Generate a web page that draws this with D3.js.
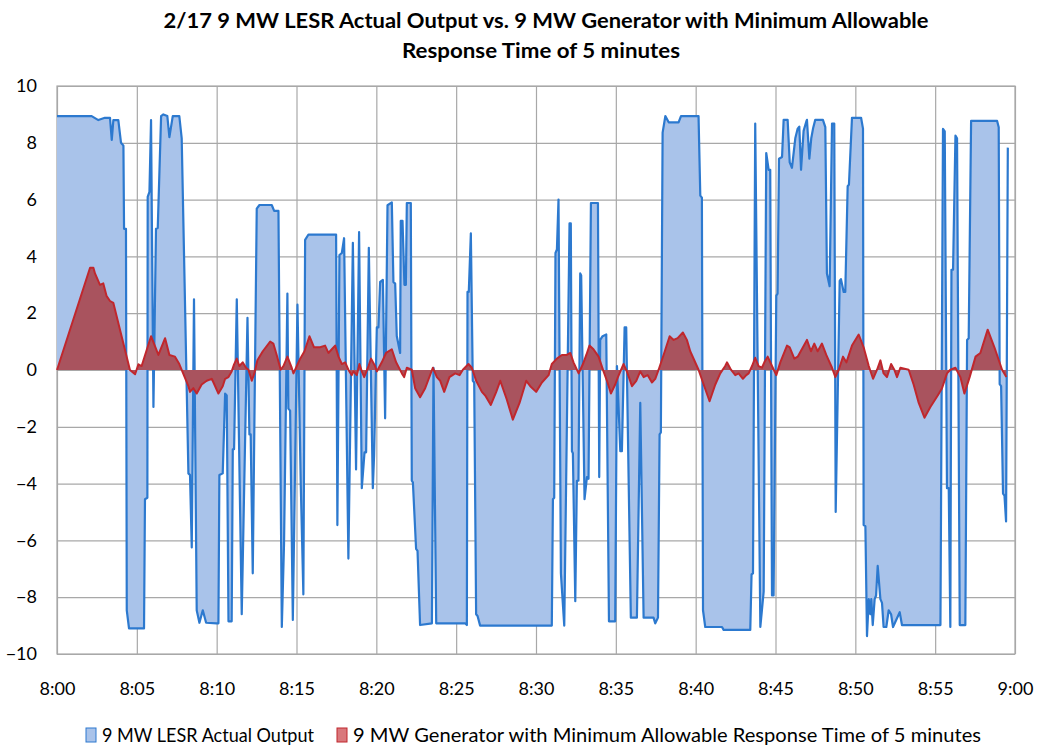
<!DOCTYPE html>
<html><head><meta charset="utf-8">
<script src="https://cdn.jsdelivr.net/npm/d3@7"></script>
<style>
body{margin:0;background:#fff;}
svg text{font-family:Lato,"Open Sans",sans-serif;fill:#000;}
</style></head>
<body><svg id="c" width="1039" height="749"></svg>
<script>
// Time in minutes after 8:00
const blueT = [0,2.17,2.59,3.0,3.32,3.43,3.53,3.84,4.01,4.16,4.20,4.32,4.37,4.51,5.45,5.51,5.66,5.68,5.79,5.89,6.04,6.20,6.31,6.52,6.66,6.91,7.04,7.25,7.66,7.81,8.23,8.33,8.44,8.58,8.75,8.92,9.13,9.34,10.0,
 10.11,10.17,10.38,10.53,10.63,10.74,10.94,11.01,11.09,11.26,11.57,11.93,12.05,12.13,12.26,12.51,12.68,13.45,13.6,13.87,14.08,14.22,14.43,14.49,14.6,14.77,15.06,15.27,15.43,15.54,15.75,17.48,17.56,17.69,17.84,17.98,18.25,18.53,18.73,18.92,19.09,19.26,19.36,19.53,19.78,
 19.86,20.03,20.13,20.24,20.41,20.55,20.70,20.97,21.07,21.18,21.28,21.49,21.53,21.64,21.76,21.85,21.91,22.16,22.22,22.29,22.49,22.58,22.74,23.48,23.58,23.75,25.56,25.67,25.71,25.79,25.92,26.04,26.13,26.25,26.34,26.5,
 30.99,31.06,31.14,31.22,31.31,31.41,31.56,31.77,32.1,32.18,32.25,32.31,32.46,32.56,32.66,32.77,32.83,33.04,33.19,33.29,33.44,33.88,33.96,34.02,34.17,34.4,34.57,34.96,35.07,35.28,35.38,35.55,35.65,35.94,36.32,36.53,36.74,37.36,37.47,37.64,37.74,37.82,37.93,38.1,38.31,38.93,39.08,
 40.18,40.29,40.39,40.46,40.6,41.65,41.75,43.42,43.5,43.59,43.73,44.05,44.26,44.42,44.57,44.67,44.78,44.88,45.05,45.13,45.22,45.41,45.51,45.76,45.89,46.03,46.24,46.39,46.49,46.6,46.76,46.93,46.97,47.12,47.24,47.35,47.49,47.97,48.12,48.22,48.39,48.54,48.68,48.77,49.02,49.1,49.27,49.37,49.52,49.6,49.79,
 50.36,50.48,50.52,50.63,50.73,50.84,50.94,51.0,51.09,51.21,51.3,51.4,51.57,51.67,51.77,51.94,52.09,52.24,52.36,52.78,52.92,55.33,55.49,55.6,55.74,55.85,55.95,56.02,56.12,56.27,56.37,56.54,56.89,57.0,57.1,57.25,58.88,58.98,59.04,59.13,59.25,59.34,59.44,59.55];
const blueV = [8.94,8.94,8.8,8.88,8.88,8.1,8.8,8.8,8.0,7.9,4.97,4.97,-8.46,-9.1,-9.1,-4.55,-4.5,6.1,6.27,8.8,-1.3,4.97,5.0,8.94,9.0,8.94,8.2,8.94,8.94,8.16,-3.64,-3.7,-6.25,2.49,-8.46,-8.9,-8.46,-8.9,-8.92,
 -8.92,-3.7,-3.64,-0.83,-0.9,-8.85,-8.85,-2.79,-2.79,2.49,-8.6,1.84,-2.27,-2.27,-7.16,5.68,5.81,5.81,5.6,5.6,-9.05,-6.1,2.69,-1.36,-1.43,-8.8,2.3,-4.1,-7.9,4.58,4.77,4.77,-5.46,4.05,4.12,4.64,-6.64,4.48,-3.5,4.86,-4.16,-2.9,-2.9,4.3,-4.16,
 -3.0,1.5,1.5,3.1,3.17,-1.7,5.8,5.9,3.1,3.04,1.2,0.6,5.25,5.25,3.0,3.0,5.88,5.88,-3.9,-3.96,-6.3,-6.37,-8.98,-8.92,0.08,-8.92,-8.92,-8.98,2.75,2.75,4.81,-0.38,-0.44,-8.6,-8.66,-9.0,
 -9.0,-4.55,-4.5,4.12,4.25,6.0,-7.16,-9.0,5.16,5.16,-2.86,-2.93,-8.14,-3.9,-3.9,3.4,3.33,-4.55,-3.77,-3.83,5.88,5.88,-3.77,1.06,1.19,1.25,-8.85,-8.85,0.14,-2.86,-2.86,1.5,1.5,-8.72,-8.72,-1.16,-8.72,-8.72,-8.92,-8.72,-2.27,-2.2,8.36,8.94,8.72,8.72,8.94,
 8.94,6.14,6.07,-8.46,-9.05,-9.05,-9.15,-9.15,-7.2,-7.16,8.68,-9.05,-7.8,7.64,7.05,7.05,-7.94,-7.94,2.62,2.69,7.44,7.5,8.81,8.81,7.31,7.12,8.16,8.5,8.57,7.05,8.42,8.75,8.81,7.44,8.16,8.5,8.81,8.81,8.55,3.4,2.95,8.68,8.68,-5.0,3.14,3.2,2.75,2.75,6.47,6.53,8.88,
 8.88,8.5,-5.46,-5.5,-9.37,-8.07,-8.6,-8.07,-8.98,-8.07,-7.94,-6.9,-8.07,-8.2,-9.05,-9.05,-8.46,-8.6,-9.05,-8.53,-8.98,-8.98,8.49,8.4,-4.16,-4.16,-9.05,3.53,3.53,8.25,8.16,-8.98,-8.98,1.06,1.12,8.77,8.77,8.55,-0.5,-0.57,-4.35,-4.42,-5.33,7.83];

const redT = [0,2.07,2.28,2.38,2.69,2.9,3.11,3.32,3.53,4.57,4.89,5.1,5.3,5.89,6.35,6.77,7.04,7.39,7.66,8.23,8.33,8.54,8.75,9.06,9.38,9.69,
 9.8,10.11,10.38,10.53,10.74,10.94,11.09,11.26,11.42,11.63,11.84,11.99,12.2,12.36,12.55,12.89,13.35,13.55,13.76,14.01,14.18,14.43,14.7,14.81,15.02,15.23,15.5,15.81,16.1,16.48,16.79,17.0,17.21,17.42,17.63,17.84,18.05,18.25,18.46,18.57,18.78,18.94,19.09,19.24,19.51,19.67,19.92,
 20.03,20.34,20.61,20.97,21.24,21.6,21.74,21.91,22.22,22.43,22.74,23.06,23.54,23.79,24.0,24.25,24.58,24.94,25.21,25.42,25.77,25.98,26.25,26.61,26.82,27.17,27.51,27.76,28.17,28.55,28.97,29.39,29.64,30.01,
 30.37,30.79,30.99,31.31,31.62,31.93,32.15,32.35,32.67,32.94,33.15,33.35,33.6,33.92,34.23,34.48,34.69,34.96,35.13,35.48,35.69,36.01,36.28,36.53,36.74,36.99,37.26,37.47,37.68,37.99,38.37,38.62,38.87,39.2,39.45,
 39.66,40.18,40.5,40.87,41.23,41.54,41.85,41.96,42.21,42.48,42.69,42.96,43.17,43.32,43.53,43.73,43.94,44.15,44.3,44.51,44.78,45.05,45.3,45.72,45.89,46.18,46.39,46.97,47.22,47.43,47.64,47.91,48.18,48.54,48.75,48.96,49.23,49.44,49.79,
 50.21,50.52,50.84,51.11,51.36,51.57,51.77,51.98,52.24,52.44,52.61,52.82,53.34,53.65,53.97,54.33,54.7,55.16,55.43,55.74,55.95,56.27,56.58,56.83,57.16,57.53,57.83,58.29,58.71,59.19,59.46];
const redV = [0,3.6,3.6,3.4,3.0,3.05,2.6,2.43,2.36,0,-0.15,0.2,0.14,1.19,0.53,1.12,0.53,0.47,0.21,-0.57,-0.77,-0.64,-0.83,-0.51,-0.38,-0.31,
 -0.44,-0.83,-0.57,-0.31,-0.25,-0.05,0.2,0.4,0.14,0.27,0.08,0.01,-0.38,-0.12,0.34,0.66,1.0,0.93,0.53,0.01,0.14,0.47,0.08,-0.12,0.14,0.4,0.66,1.19,0.8,0.8,0.86,0.6,0.73,0.86,0.47,0.21,0.27,0.01,-0.18,-0.05,-0.18,0.21,-0.05,-0.25,0.14,0.4,0.14,
 -0.05,0.27,0.6,0.73,0.27,-0.12,-0.25,0.08,0.01,-0.64,-0.96,-0.64,0.08,-0.25,-0.38,-0.77,-0.25,-0.12,-0.18,0.01,0.21,0.08,-0.38,-0.77,-0.9,-1.23,-0.77,-0.38,-1.04,-1.75,-1.16,-0.38,-0.57,-0.77,
 -0.44,-0.18,0.21,0.4,0.53,0.53,0.6,0.27,-0.12,0.21,0.53,0.86,0.73,0.47,-0.05,-0.44,-0.83,-0.51,-0.25,0.21,-0.05,-0.57,-0.38,-0.05,-0.25,-0.18,-0.44,-0.31,0.01,0.53,1.19,1.06,1.12,1.32,1.06,
 0.66,0.01,-0.51,-1.1,-0.51,-0.12,0.14,0.27,0.01,-0.18,-0.12,-0.31,-0.18,-0.12,0.14,0.43,0.14,0.08,0.27,0.47,0.14,-0.18,0.27,0.86,0.8,0.4,0.47,1.06,0.66,0.93,0.66,0.93,0.53,0.08,-0.25,0.01,0.47,0.27,0.86,
 1.25,0.8,0.14,-0.31,0.01,0.34,-0.12,-0.25,0.21,0.01,-0.25,0.08,0.01,-0.51,-1.16,-1.68,-1.3,-0.9,-0.64,-0.12,0.01,0.08,-0.25,-0.83,-0.25,0.47,0.6,1.42,0.8,0.01,-0.25];

const yTicks = [10,8,6,4,2,0,-2,-4,-6,-8,-10];
const xTickVals = [0,5,10,15,20,25,30,35,40,45,50,55,60];
const xTickLabels = ["8:00","8:05","8:10","8:15","8:20","8:25","8:30","8:35","8:40","8:45","8:50","8:55","9:00"];
const titleLines = ["2/17 9 MW LESR Actual Output vs. 9 MW Generator with Minimum Allowable","Response Time of 5 minutes"];
const seriesNames = ["9 MW LESR Actual Output","9 MW Generator with Minimum Allowable Response Time of 5 minutes"];

const svg = d3.select("#c");
const L=57,R=1015,T=86,B=654;
const x = d3.scaleLinear().domain([0,60]).range([L,R]);
const y = d3.scaleLinear().domain([-10,10]).range([B,T]);

// gridlines
svg.append("g").attr("transform",`translate(${L},0)`)
  .call(d3.axisLeft(y).tickValues(yTicks).tickSize(-(R-L)).tickFormat(""))
  .call(g=>g.select(".domain").remove())
  .call(g=>g.selectAll("line").attr("stroke","#a8a8a8").attr("stroke-width",1.2));
svg.append("g").attr("transform",`translate(0,${B})`)
  .call(d3.axisBottom(x).tickValues(xTickVals).tickSize(-(B-T)).tickFormat(""))
  .call(g=>g.select(".domain").remove())
  .call(g=>g.selectAll("line").attr("stroke","#a8a8a8").attr("stroke-width",1.2));
svg.append("rect").attr("x",L).attr("y",T).attr("width",R-L).attr("height",B-T)
  .attr("fill","none").attr("stroke","#a8a8a8").attr("stroke-width",1.2);

const blue = blueT.map((t,i)=>[t,blueV[i]]);
const red = redT.map((t,i)=>[t,redV[i]]);
const area = d3.area().x(d=>x(d[0])).y0(y(0)).y1(d=>y(d[1]));
const line = d3.line().x(d=>x(d[0])).y(d=>y(d[1]));

svg.append("path").datum(blue).attr("d",area).attr("fill","#a9c3ea");
svg.append("path").datum(blue).attr("d",line).attr("fill","none").attr("stroke","#2c79cf").attr("stroke-width",2.2).attr("stroke-linejoin","round");
svg.append("path").datum(red).attr("d",area).attr("fill","#a9535e");
svg.append("path").datum(red).attr("d",line).attr("fill","none").attr("stroke","#c0272d").attr("stroke-width",2).attr("stroke-linejoin","round");

// axis labels
svg.append("g").attr("transform",`translate(${L-20},0)`)
  .call(d3.axisLeft(y).tickValues(yTicks).tickSize(0).tickPadding(0))
  .call(g=>g.select(".domain").remove())
  .call(g=>g.selectAll("text").attr("font-size",18).attr("font-family",null));
svg.append("g").attr("transform",`translate(0,682)`)
  .call(d3.axisBottom(x).tickValues(xTickVals).tickSize(0).tickPadding(0).tickFormat((d,i)=>xTickLabels[i]))
  .call(g=>g.select(".domain").remove())
  .call(g=>g.selectAll("text").attr("font-size",18).attr("font-family",null));

// title
const tLen=[765,278], tCx=[546,541];
svg.selectAll(".title").data(titleLines).enter().append("text")
  .attr("x",(d,i)=>tCx[i]).attr("y",(d,i)=>28+i*30).attr("text-anchor","middle")
  .attr("font-size",21).attr("font-weight","bold")
  .attr("textLength",(d,i)=>tLen[i]).attr("lengthAdjust","spacingAndGlyphs").text(d=>d);

// legend
const lg = svg.append("g");
const items=[{x:86,len:212,fill:"#a9c3ea",stroke:"#2c79cf"},{x:337,len:628,fill:"#d9787c",stroke:"#c0272d"}];
items.forEach((it,i)=>{
  lg.append("rect").attr("x",it.x).attr("y",728).attr("width",10).attr("height",14).attr("fill",it.fill).attr("stroke",it.stroke).attr("stroke-width",1);
  lg.append("text").attr("x",it.x+16).attr("y",742).attr("font-size",19)
    .attr("textLength",it.len).attr("lengthAdjust","spacingAndGlyphs").text(seriesNames[i]);
});
</script></body></html>
